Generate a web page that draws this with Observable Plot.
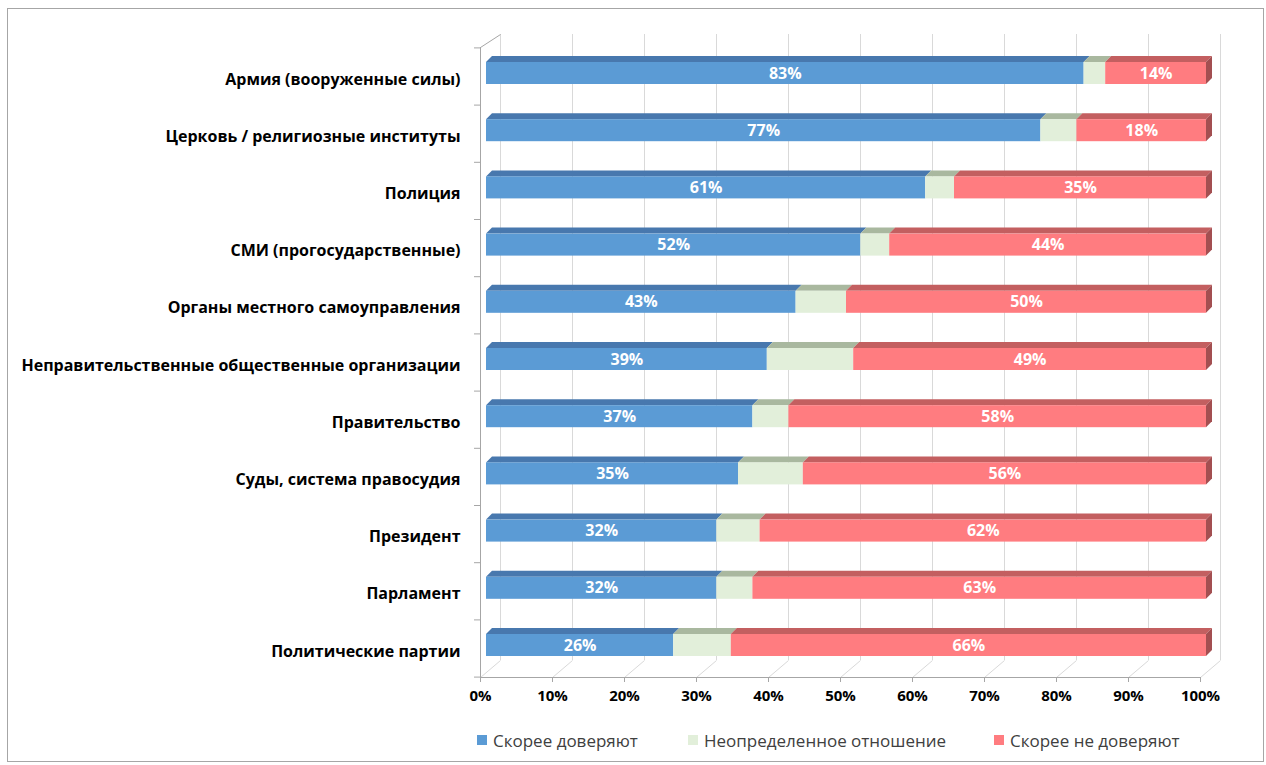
<!DOCTYPE html>
<html><head><meta charset="utf-8">
<script src="https://cdn.jsdelivr.net/npm/d3@7"></script>
<script src="https://cdn.jsdelivr.net/npm/@observablehq/plot@0.6"></script>
<style>
body{margin:0;background:#fff;width:1266px;height:765px;overflow:hidden;position:relative;font-family:"Open Sans",sans-serif}
#frame{position:absolute;left:7px;top:8px;width:1257px;height:754px;border:1px solid #a6a6a6;box-sizing:border-box;pointer-events:none}
#chart{position:absolute;left:0;top:0}
#legend{position:absolute;top:729px;left:0;width:1266px;height:22px;font-size:17px;color:#404040}
.item{position:absolute;top:0;height:22px;display:flex;align-items:center;white-space:nowrap}
.sw{width:10px;height:10px;margin-right:6px}
rect[aria-label="top3d"]{transform-box:fill-box;transform-origin:0 100%;transform:skewX(-45deg)}
rect[aria-label="side3d"]{transform-box:fill-box;transform-origin:0 100%;transform:skewY(-45deg)}
</style>
</head><body>
<div id="chart"></div>
<div id="legend"></div>
<div id="frame"></div>
<script>
const categories = [
  "Армия (вооруженные силы)",
  "Церковь / религиозные институты",
  "Полиция",
  "СМИ (прогосударственные)",
  "Органы местного самоуправления",
  "Неправительственные общественные организации",
  "Правительство",
  "Суды, система правосудия",
  "Президент",
  "Парламент",
  "Политические партии"
];
const trust    = [83, 77, 61, 52, 43, 39, 37, 35, 32, 32, 26];
const neutral  = [ 3,  5,  4,  4,  7, 12,  5,  9,  6,  5,  8];
const distrust = [14, 18, 35, 44, 50, 49, 58, 56, 62, 63, 66];
const seriesNames = ["Скорее доверяют", "Неопределенное отношение", "Скорее не доверяют"];
const xTicks = [0, 10, 20, 30, 40, 50, 60, 70, 80, 90, 100];

const frontCol = ["#5b9bd5", "#e2efda", "#ff7c80"];
const topCol   = ["#4878ae", "#a9b89f", "#c35f60"];
const sideCol  = "#a34f51";

// scale geometry
const PX = 7.2, PY = 57.2;          // pixels per x unit / per row
const py = p => (p - 73) / PY;      // page pixel -> row units (decorations only)
const HB = 11 / PY, TD = 6 / PY;

const segs = [];
const rows = categories.map((c, i) => {
  const vals = [trust[i], neutral[i], distrust[i]];
  let s = 0;
  vals.forEach((v, k) => { segs.push({i, k, v, x1: s, x2: s + v}); s += v; });
  return {i, total: s};
});
const labelled = segs.filter(d => d.k !== 1);

const grid = "#d9d9d9", axisCol = "#a6a6a6";

const plot = Plot.plot({
  width: 1266, height: 720,
  marginLeft: 480, marginRight: 66, marginTop: 30, marginBottom: 43,
  style: {fontFamily: "Open Sans, sans-serif", background: "transparent", overflow: "visible"},
  x: {domain: [0, 100], range: [480, 1200]},
  y: {domain: [-1, 11], range: [15.8, 702.2]},
  color: {type: "identity"},
  marks: [
    // back wall and floor
    Plot.ruleX(xTicks, {x: d => d, y1: py(34), y2: py(660), dx: 20, stroke: grid}),
    Plot.link(xTicks, {x1: d => d, y1: py(677), x2: d => d + 20 / PX, y2: py(660), stroke: grid}),
    Plot.link([0], {x1: 0, y1: py(47), x2: 20 / PX, y2: py(34), stroke: axisCol}),
    Plot.ruleX([0], {x: 0, y1: py(47), y2: py(677), stroke: axisCol}),
    Plot.ruleY([0], {y: py(677), x1: 0, x2: 100, stroke: axisCol}),
    Plot.ruleX(xTicks, {x: d => d, y1: py(677), y2: py(682), stroke: axisCol}),
    Plot.ruleY(d3.range(12), {y: k => k - 0.5 + 3 / PY, x1: -6 / PX, x2: 0, stroke: axisCol}),
    // bars: top faces, end face, front faces
    Plot.rect(segs, {x1: "x1", x2: "x2", y1: d => d.i - HB - TD, y2: d => d.i - HB, dx: 6,
      fill: d => topCol[d.k], ariaLabel: () => "top3d"}),
    Plot.rect(rows, {x1: "total", x2: d => d.total + 6 / PX, y1: d => d.i - HB, y2: d => d.i + HB, dx: 6,
      fill: sideCol, ariaLabel: () => "side3d"}),
    Plot.rect(segs, {x1: "x1", x2: "x2", y1: d => d.i - HB, y2: d => d.i + HB, dx: 6,
      fill: d => frontCol[d.k]}),
    Plot.text(labelled, {x: d => (d.x1 + d.x2) / 2, y: "i", dx: 6, text: d => d.v + "%",
      fill: "#fff", fontWeight: "bold", fontSize: 16}),
    // axes
    Plot.axisY(d3.range(11), {anchor: "left", tickSize: 0, tickPadding: 20, dy: 6,
      tickFormat: i => categories[i], fontSize: 16, fontWeight: "bold", fill: "#000", label: null}),
    Plot.axisX(xTicks, {anchor: "bottom", tickSize: 0, tickPadding: 13,
      tickFormat: d => d + "%", fontSize: 15, fontWeight: "bold", fill: "#000", label: null})
  ]
});
document.getElementById("chart").appendChild(plot);

const legendPos = [477, 688, 994];
const legend = document.getElementById("legend");
seriesNames.forEach((name, k) => {
  const it = document.createElement("div");
  it.className = "item";
  it.style.left = legendPos[k] + "px";
  const sw = document.createElement("span");
  sw.className = "sw";
  sw.style.background = frontCol[k];
  const tx = document.createElement("span");
  tx.textContent = name;
  it.appendChild(sw); it.appendChild(tx);
  legend.appendChild(it);
});
</script>
</body></html>
